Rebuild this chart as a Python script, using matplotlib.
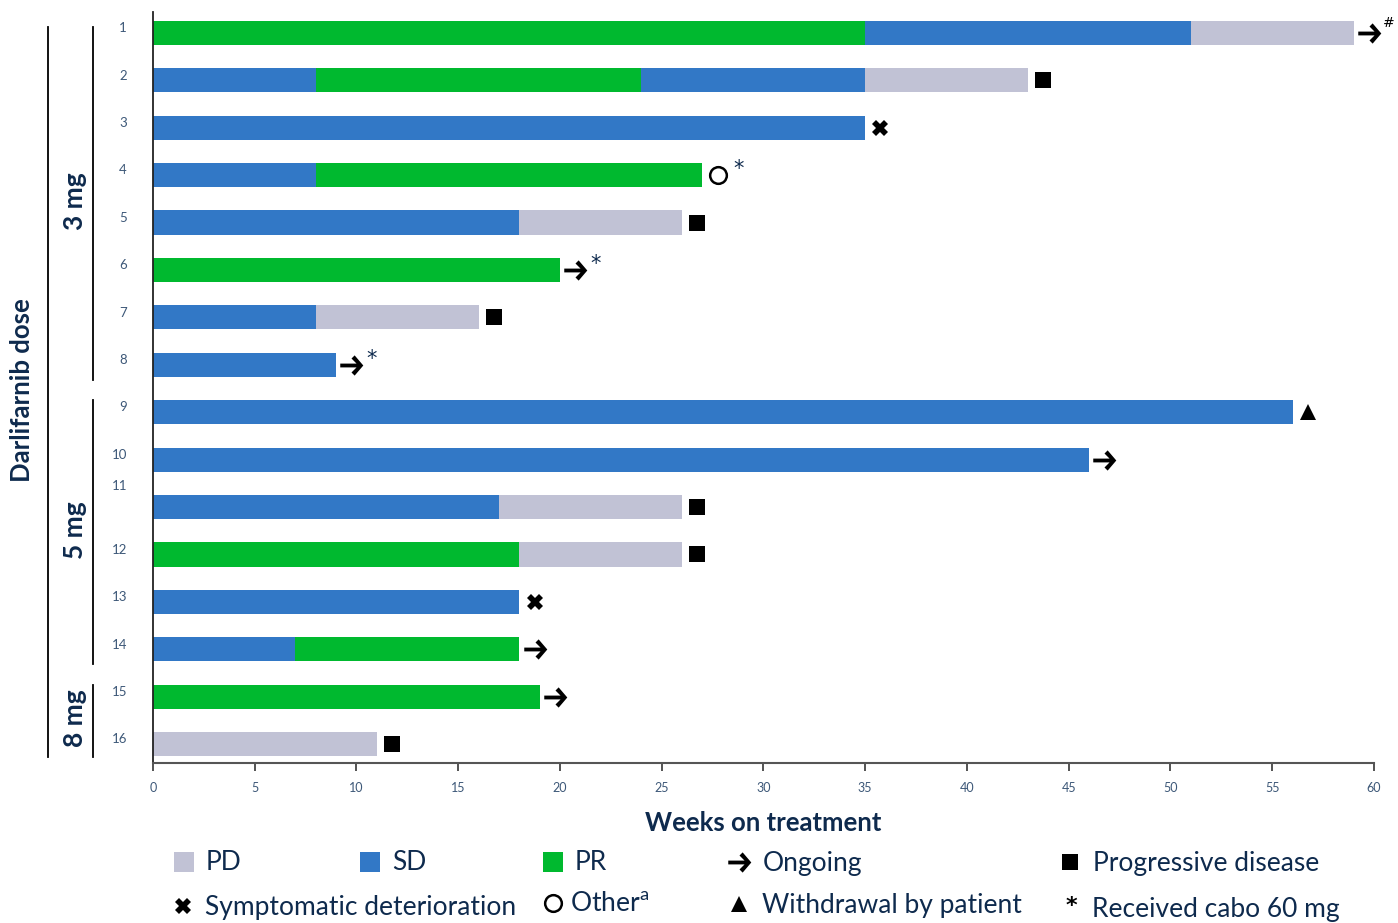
import matplotlib.pyplot as plt
import numpy as np
from matplotlib.path import Path
from matplotlib.lines import Line2D
import matplotlib.transforms as mtransforms

# data: one list of (start, end, response) segments per patient
patients = list(range(1, 17))
segments = [
    [(0, 35, 'PR'), (35, 51, 'SD'), (51, 59, 'PD')],
    [(0, 8, 'SD'), (8, 24, 'PR'), (24, 35, 'SD'), (35, 43, 'PD')],
    [(0, 35, 'SD')],
    [(0, 8, 'SD'), (8, 27, 'PR')],
    [(0, 18, 'SD'), (18, 26, 'PD')],
    [(0, 20, 'PR')],
    [(0, 8, 'SD'), (8, 16, 'PD')],
    [(0, 9, 'SD')],
    [(0, 56, 'SD')],
    [(0, 46, 'SD')],
    [(0, 17, 'SD'), (17, 26, 'PD')],
    [(0, 18, 'PR'), (18, 26, 'PD')],
    [(0, 18, 'SD')],
    [(0, 7, 'SD'), (7, 18, 'PR')],
    [(0, 19, 'PR')],
    [(0, 11, 'PD')],
]
# end-of-treatment reason and note for each patient
reasons = ['ongoing', 'pd', 'sympt', 'other', 'pd', 'ongoing', 'pd', 'ongoing',
           'withdrawal', 'ongoing', 'pd', 'pd', 'sympt', 'ongoing', 'ongoing', 'pd']
notes = ['#', '', '', '*', '', '*', '', '*', '', '', '', '', '', '', '', '']
xticks = list(range(0, 61, 5))
groups = [('3 mg', 1, 8), ('5 mg', 9, 14), ('8 mg', 15, 16)]

colors = {'PD': '#C1C2D5', 'SD': '#3278C6', 'PR': '#00B92F'}
navy = '#0E2A4D'
ticknavy = '#3D5878'

plt.rcParams['font.family'] = ['Lato', 'DejaVu Sans']

# bold chevron arrow marker
arrow = Path([(-1, 0.17), (0.45, 0.17), (0.0, 0.62), (0.28, 0.9), (1.05, 0),
              (0.28, -0.9), (0.0, -0.62), (0.45, -0.17), (-1, -0.17), (-1, 0.17)],
             [Path.MOVETO] + [Path.LINETO] * 8 + [Path.CLOSEPOLY])

mk = {
    'ongoing': dict(marker=arrow, ms=17, color='black', mew=0),
    'pd': dict(marker='s', ms=11.5, color='black', mew=0),
    'sympt': dict(marker='X', ms=12, color='black', mew=0),
    'other': dict(marker='o', ms=12, mfc='none', mec='black', mew=1.8),
    'withdrawal': dict(marker='^', ms=12, color='black', mew=0),
}

fig = plt.figure(figsize=(13.98, 9.23), dpi=100)
ax = fig.add_axes([0.1094, 0.1733, 0.8734, 0.8137])

for p, segs in zip(patients, segments):
    for s, e, r in segs:
        ax.barh(p, e - s, left=s, height=0.51, color=colors[r], edgecolor='none')

for p, segs, r, n in zip(patients, segments, reasons, notes):
    end = segs[-1][1]
    ax.plot(end + 0.75, p, linestyle='none', clip_on=False, **mk[r])
    if n == '*':
        ax.text(end + 1.5, p - 0.12, n, fontsize=15, color=navy, ha='left',
                va='center', clip_on=False, family='DejaVu Sans')
    elif n:
        ax.text(end + 1.45, p - 0.2, n, fontsize=10, color='black', ha='left',
                va='center', clip_on=False, family='DejaVu Sans')

ax.set_xlim(0, 60)
ax.set_ylim(16.4, 0.56)
ax.set_xticks(xticks)
ax.set_xticklabels([str(t) for t in xticks], fontsize=9, color=ticknavy)
ax.set_yticks(patients)
ax.set_yticklabels([])
ax.tick_params(axis='y', length=0)
ax.tick_params(axis='x', length=6, width=1.3, color='#444444', pad=8)
for side in ['top', 'right']:
    ax.spines[side].set_visible(False)
ax.spines['left'].set_color('#222222')
ax.spines['left'].set_linewidth(1.3)
ax.spines['bottom'].set_color('#555555')
ax.spines['bottom'].set_linewidth(1.5)

ax.set_xlabel('Weeks on treatment', fontsize=18.5, fontweight='bold', color=navy,
              labelpad=12)

tr = mtransforms.blended_transform_factory(fig.transFigure, ax.transData)

# patient numbers (number 11 sits above its bar in the original)
for p in patients:
    off = -0.44 if p == 11 else -0.1
    ax.text(127 / 1398, p + off, str(p), transform=tr, ha='right', va='center',
            fontsize=9.5, color=ticknavy)

# dose group brackets
ax.add_line(Line2D([48 / 1398, 48 / 1398], [0.88, 16.27], transform=tr,
                   color='black', lw=1.3, clip_on=False))
for name, a, b in groups:
    top = a - 0.25 if a > 1 else 0.88
    bot = b + 0.32 if b < 16 else 16.27
    ax.add_line(Line2D([93 / 1398, 93 / 1398], [top, bot], transform=tr,
                       color='black', lw=1.3, clip_on=False))
    ax.text(75 / 1398, (top + bot) / 2 - 0.05, name, transform=tr, rotation=90,
            ha='center', va='center', fontsize=19, fontweight='bold', color=navy)
fig.text(22 / 1398, 1 - 390 / 923, 'Darlifarnib dose', rotation=90, ha='center',
         va='center', fontsize=18.5, fontweight='bold', color=navy)

# legend, laid out by hand
leg_items = [
    ('PD', 184, 862, 22, dict(marker='s', ms=14, color=colors['PD'], mew=0)),
    ('SD', 370, 862, 22, dict(marker='s', ms=14, color=colors['SD'], mew=0)),
    ('PR', 553, 862, 22, dict(marker='s', ms=14, color=colors['PR'], mew=0)),
    ('Ongoing', 739, 862, 24, mk['ongoing']),
    ('Progressive disease', 1070, 862, 23, mk['pd']),
    ('Symptomatic deterioration', 183, 906, 22, mk['sympt']),
    ('Other$^{\\mathregular{a}}$', 553, 903, 17, mk['other']),
    ('Withdrawal by patient', 739, 904, 23, mk['withdrawal']),
]
for label, x, y, dx, style in leg_items:
    fig.add_artist(Line2D([x / 1398], [1 - y / 923], transform=fig.transFigure,
                          linestyle='none', **style))
    fig.text((x + dx) / 1398, 1 - (y + 1) / 923, label, fontsize=19,
             color=navy, ha='left', va='center')
fig.text(1071 / 1398, 1 - 906 / 923, '*', fontsize=16, color='black',
         ha='center', va='center', fontweight='bold', family='DejaVu Sans')
fig.text(1092 / 1398, 1 - 909 / 923, 'Received cabo 60 mg', fontsize=19,
         color=navy, ha='left', va='center')

fig.savefig('out.png', dpi=100)
